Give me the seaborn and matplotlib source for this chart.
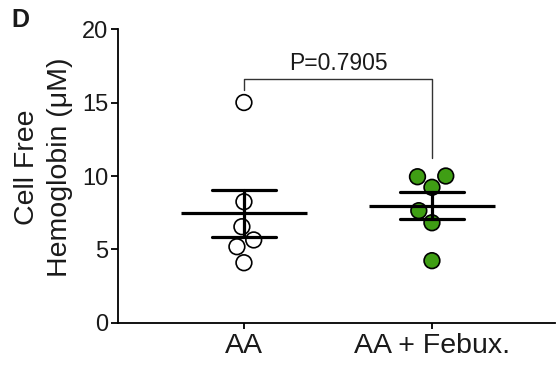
import numpy as np
import pandas as pd
import matplotlib
matplotlib.use("Agg")
import matplotlib.pyplot as plt
import seaborn as sns

# ---- data ----
groups = ["AA", "AA + Febux."]
aa_values = [15.0, 8.25, 6.55, 5.65, 5.19, 4.10]
febux_values = [10.0, 9.95, 9.23, 7.64, 6.82, 4.24]
y_ticks = [0, 5, 10, 15, 20]
p_text = "P=0.7905"

df = pd.DataFrame({
    "group": [groups[0]] * len(aa_values) + [groups[1]] * len(febux_values),
    "value": aa_values + febux_values,
})

sns.set_style("ticks")
plt.rcParams["font.family"] = ["Liberation Sans", "DejaVu Sans"]

fig = plt.figure(figsize=(5.56, 3.65), dpi=100)
ax = fig.add_axes([0.2122, 0.1151, 0.7858, 0.8054])

green = "#3F9E14"

sns.swarmplot(data=df, x="group", y="value", hue="group", order=groups,
              palette={groups[0]: "white", groups[1]: green},
              size=11.3, linewidth=1.2, edgecolor="black", legend=False,
              ax=ax, zorder=3)

sns.pointplot(data=df, x="group", y="value", order=groups, errorbar="se",
              color="black", linestyle="none", marker="_", markersize=91,
              markeredgewidth=2.3, capsize=0.34, err_kws={"linewidth": 2.3},
              ax=ax, zorder=4)

ax.set_xlim(-0.67, 1.654)
ax.set_ylim(0, 20)
ax.set_yticks(y_ticks)
ax.set_yticklabels([str(t) for t in y_ticks], fontsize=17)
ax.tick_params(axis="x", labelsize=20.5, length=4, width=1.3, pad=3, colors="black")
ax.tick_params(axis="y", length=5, width=1.3, pad=2, colors="black")
for lbl in ax.get_xticklabels() + ax.get_yticklabels():
    lbl.set_color("#1a1a1a")
sns.despine(ax=ax)
for s in ["left", "bottom"]:
    ax.spines[s].set_linewidth(1.3)
    ax.spines[s].set_color("black")
ax.set_xlabel("")
ax.set_ylabel("Cell Free\nHemoglobin (μM)", fontsize=20.5, color="#1a1a1a",
              linespacing=1.35)
ax.yaxis.set_label_coords(-0.103, 0.53)

# significance bracket
bx = [0, 0, 1, 1]
by = [15.85, 16.58, 16.58, 11.22]
ax.plot(bx, by, color="#333333", linewidth=1.0, clip_on=False)
ax.text(0.5, 16.9, p_text, ha="center", va="bottom", fontsize=16.5,
        color="#1a1a1a")

fig.text(0.021, 0.978, "D", fontsize=18, fontweight="bold", ha="left",
         va="top", color="#1a1a1a")

fig.savefig("out.png", dpi=100)
